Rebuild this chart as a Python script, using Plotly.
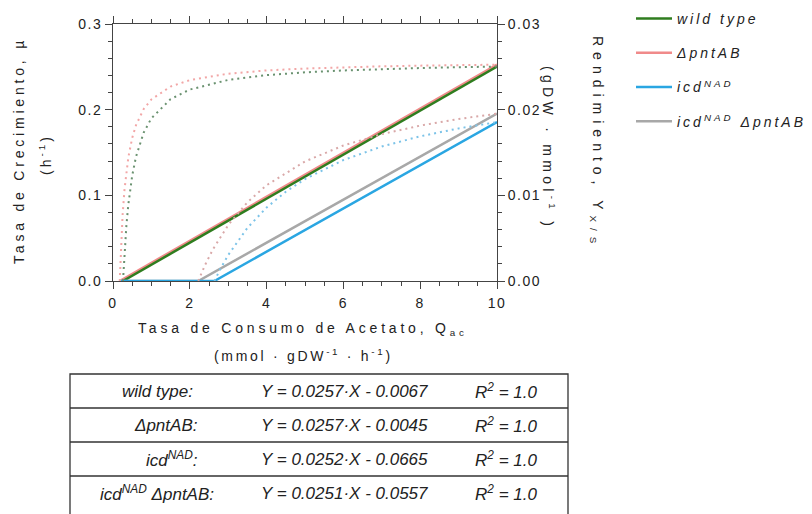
import plotly.graph_objects as go

# ---------------- data ----------------
strains = ["wild type", "ΔpntAB", "icd<sup>NAD</sup>", "icd<sup>NAD</sup> ΔpntAB"]

# growth-rate lines (left axis, h^-1) vs acetate uptake Q_ac
q_wt = [0.26, 10.0]
mu_wt = [0.0, 0.2503]
q_pnt = [0.175, 10.0]
mu_pnt = [0.0, 0.2525]
q_icd = [0.2, 2.64, 10.0]
mu_icd = [0.0, 0.0, 0.1855]
q_icdpnt = [0.2, 2.22, 10.0]
mu_icdpnt = [0.0, 0.0, 0.1953]

# yield curves (right axis, gDW/mmol), dotted
qy_wt = [0.26, 0.3, 0.35, 0.4, 0.5, 0.6, 0.8, 1.0, 1.5, 2.0, 3.0, 4.0, 5.0, 6.0, 7.0, 8.0, 9.0, 10.0]
y_wt = [0.0, 0.00337, 0.00656, 0.00895, 0.0123, 0.01453, 0.01733, 0.0190, 0.02123, 0.02235,
        0.02347, 0.02403, 0.02436, 0.02458, 0.02474, 0.02486, 0.02496, 0.02503]
qy_pnt = [0.175, 0.2, 0.25, 0.3, 0.4, 0.5, 0.6, 0.8, 1.0, 1.5, 2.0, 3.0, 4.0, 5.0, 6.0, 7.0, 8.0, 9.0, 10.0]
y_pnt = [0.0, 0.0032, 0.0077, 0.0107, 0.01445, 0.0167, 0.0182, 0.02008, 0.0212, 0.0227, 0.02345,
         0.0242, 0.02458, 0.0248, 0.02495, 0.02506, 0.02514, 0.0252, 0.02525]
qy_icd = [2.64, 2.8, 3.0, 3.5, 4.0, 4.5, 5.0, 6.0, 7.0, 8.0, 9.0, 10.0]
y_icd = [0.0, 0.00145, 0.00303, 0.0062, 0.00858, 0.01042, 0.0119, 0.01412, 0.0157, 0.01689, 0.01781, 0.01855]
qy_icdpnt = [2.22, 2.4, 2.6, 3.0, 3.5, 4.0, 5.0, 6.0, 7.0, 8.0, 9.0, 10.0]
y_icdpnt = [0.0, 0.00189, 0.00368, 0.00653, 0.00919, 0.01118, 0.01396, 0.01582, 0.01714, 0.01814, 0.01891, 0.01953]

x_ticks = [0, 2, 4, 6, 8, 10]
x_ticklabels = ["0", "2", "4", "6", "8", "10"]
y_ticks = [0.0, 0.1, 0.2, 0.3]
y_ticklabels = ["0.0", "0.1", "0.2", "0.3"]
y2_ticks = [0.0, 0.01, 0.02, 0.03]
y2_ticklabels = ["0.00", "0.01", "0.02", "0.03"]

table_names = ["wild type:", "ΔpntAB:", "icd<sup>NAD</sup>:", "icd<sup>NAD</sup> ΔpntAB:"]
table_eqs = ["Y = 0.0257·X - 0.0067", "Y = 0.0257·X - 0.0045",
             "Y = 0.0252·X - 0.0665", "Y = 0.0251·X - 0.0557"]
table_r2 = ["R<sup>2</sup> = 1.0"] * 4

# ---------------- layout helpers ----------------
W, H = 812, 514
ML, MR, MT, MB = 113, 315, 24, 233
PW = W - ML - MR
PH = H - MT - MB


def px(x):
    return (x - ML) / PW


def py(y):
    return (H - MB - y) / PH


FONT = "Liberation Sans, Arial, sans-serif"
TXT = "#222222"
AX = "#444444"


def sp(s, n=2):
    return '<span style="letter-spacing:%spx">%s</span>' % (n, s)


C_WT = "#2f7d1f"
C_PNT = "#f08a8a"
C_ICD = "#2aa6e2"
C_ICDPNT = "#a8a8a8"

fig = go.Figure()

# dotted yield curves
for q, yv, c in [(qy_pnt, y_pnt, "#f2a6a6"), (qy_wt, y_wt, "#6a9270"),
                 (qy_icdpnt, y_icdpnt, "#d9a8a8"), (qy_icd, y_icd, "#7cc3e8")]:
    fig.add_trace(go.Scatter(x=q, y=yv, yaxis="y2", mode="lines", showlegend=False,
                             line=dict(color=c, width=2, dash="2px,4px"), hoverinfo="skip"))

# growth lines
lines = [
    (q_pnt, mu_pnt, C_PNT, 2.5, 1),
    (q_wt, mu_wt, C_WT, 2.5, 0),
    (q_icdpnt, mu_icdpnt, C_ICDPNT, 2.5, 3),
    (q_icd, mu_icd, C_ICD, 2.5, 2),
]
for q, m, c, w, idx in lines:
    fig.add_trace(go.Scatter(x=q, y=m, mode="lines", name=sp(strains[idx], 3),
                             legendgroup="g%d" % idx, legendrank=idx + 1,
                             line=dict(color=c, width=w), cliponaxis=False))

axis_common = dict(showline=True, linecolor=AX, linewidth=1, ticks="outside", tickcolor=AX,
                   ticklen=7, tickwidth=1, showgrid=False, zeroline=False,
                   tickfont=dict(family=FONT, size=14, color=TXT))

fig.update_layout(
    width=W, height=H,
    margin=dict(l=ML, r=MR, t=MT, b=MB, autoexpand=False),
    paper_bgcolor="white", plot_bgcolor="white",
    font=dict(family=FONT, color=TXT),
    xaxis=dict(range=[0, 10], tickvals=x_ticks, ticktext=[sp(t, 1.5) for t in x_ticklabels],
               mirror="ticks", ticklabelstandoff=2,
               minor=dict(dtick=0.5, ticklen=4, tickcolor=AX, ticks="outside"),
               **axis_common),
    yaxis=dict(range=[0, 0.3], tickvals=y_ticks, ticktext=[sp(t, 1.5) for t in y_ticklabels],
               minor=dict(dtick=0.02, ticklen=4, tickcolor=AX, ticks="outside"), **axis_common),
    yaxis2=dict(range=[0, 0.03], overlaying="y", side="right", tickvals=y2_ticks,
                ticktext=[sp(t, 1.5) for t in y2_ticklabels],
                minor=dict(dtick=0.002, ticklen=4, tickcolor=AX, ticks="outside"), **axis_common),
    legend=dict(x=px(631), y=py(3), xanchor="left", yanchor="top", bgcolor="rgba(0,0,0,0)",
                font=dict(family=FONT, size=14, color=TXT, style="italic"), tracegroupgap=13,
                itemwidth=36),
    showlegend=True,
)


def note(x, y, text, size=14, angle=0, italic=False):
    f = dict(family=FONT, size=size, color=TXT)
    if italic:
        f["style"] = "italic"
    return dict(x=px(x), y=py(y), xref="paper", yref="paper", showarrow=False,
                xanchor="center", yanchor="middle", textangle=angle, text=text, font=f)


ann = []
# axis titles
ann.append(note(303, 329, sp("Tasa de Consumo de Acetato, Q<sub>ac</sub>", 3.8)))
ann.append(note(303, 355, sp("(mmol · gDW<sup>-1</sup> · h<sup>-1</sup>)", 2.7)))
ann.append(note(19, 151, sp("Tasa de Crecimiento, µ", 3.8), angle=-90))
ann.append(note(45, 155, sp("(h<sup>-1</sup>)", 3), angle=-90))
ann.append(note(597, 142, sp("Rendimiento, Y<sub>X/S</sub>", 6), angle=90))
ann.append(note(549, 148, sp("(gDW · mmol<sup>-1</sup> )", 4.3), angle=90))

# table
row_tops = [374, 408, 442, 476]
row_h = 34
shapes = []
shapes.append(dict(type="rect", xref="paper", yref="paper", x0=px(70), x1=px(568),
                   y0=py(374), y1=py(540), line=dict(color="#333", width=1.3)))
for t in row_tops[1:]:
    shapes.append(dict(type="line", xref="paper", yref="paper", x0=px(70), x1=px(568),
                       y0=py(t), y1=py(t), line=dict(color="#333", width=1.3)))
name_x = [157, 166, 172, 157]
for i in range(4):
    yc = row_tops[i] + row_h / 2
    ann.append(note(name_x[i], yc, table_names[i], size=17, italic=True))
    ann.append(note(344, yc, table_eqs[i], size=17, italic=True))
    ann.append(note(506, yc, table_r2[i], size=17, italic=True))

fig.update_layout(annotations=ann, shapes=shapes)
fig.write_html("out.html", config={"displayModeBar": False},
               post_script="document.body.style.margin='0px';")
